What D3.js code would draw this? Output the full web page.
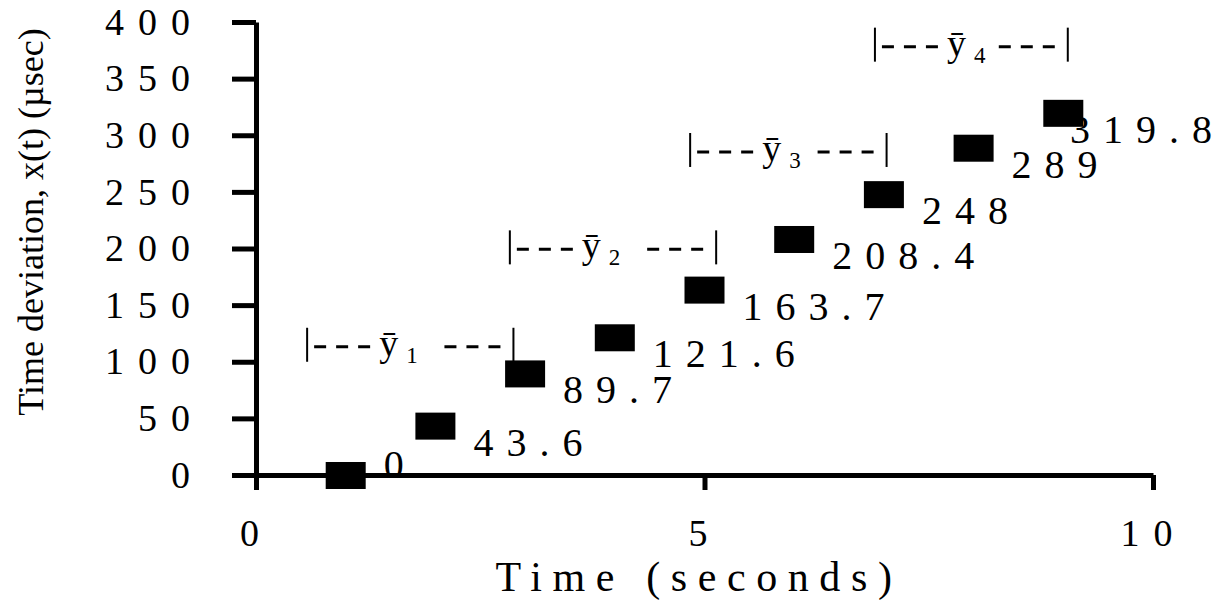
<!DOCTYPE html>
<html>
<head>
<meta charset="utf-8">
<script src="https://cdn.jsdelivr.net/npm/d3@7"></script>
<style>
  body { margin: 0; background: #fff; }
  text { font-family: "Liberation Serif", "Times New Roman", serif; fill: #000; }
</style>
</head>
<body>
<script>
// values
let times = [1, 2, 3, 4, 5, 6, 7, 8, 9];
let deviations = [0, 43.6, 89.7, 121.6, 163.7, 208.4, 248, 289, 319.8];
let pointLabels = ["0", "43.6", "89.7", "121.6", "163.7", "208.4", "248", "289", "319.8"];

let xTicks = [0, 5, 10];
let yTicks = [0, 50, 100, 150, 200, 250, 300, 350, 400];

// averaging intervals drawn as |---y---| brackets
let bracketNames = ["1", "2", "3", "4"];
let bracketStart = [0.57, 2.83, 4.84, 6.9];
let bracketEnd = [2.87, 5.13, 7.03, 9.05];
let bracketLevel = [115, 201, 287, 380];

let width = 1227;
let height = 601;

let svg = d3.select("body").append("svg")
    .attr("width", width)
    .attr("height", height);

let xScale = d3.scaleLinear().domain([0, 10]).range([256, 1153]);
let yScale = d3.scaleLinear().domain([0, 400]).range([475, 22]);

let styleAxis = (g, fontSize, spacing) => {
    g.select(".domain").attr("stroke", "#000").attr("stroke-width", 5);
    g.selectAll(".tick line").attr("stroke", "#000").attr("stroke-width", 5);
    g.selectAll(".tick text")
        .attr("font-family", "Liberation Serif")
        .attr("font-size", fontSize)
        .style("letter-spacing", spacing + "px");
};

let drawAxes = () => {
    let yAxis = d3.axisLeft(yScale)
        .tickValues(yTicks)
        .tickSize(24)
        .tickSizeOuter(0)
        .tickPadding(28)
        .tickFormat(d3.format("d"));

    let xAxis = d3.axisBottom(xScale)
        .tickValues(xTicks)
        .tickSize(15)
        .tickSizeOuter(0)
        .tickPadding(29)
        .tickFormat(d3.format("d"));

    svg.append("g")
        .attr("transform", "translate(256,0)")
        .call(yAxis)
        .call(g => styleAxis(g, 38, 14));

    svg.append("g")
        .attr("transform", "translate(0,475)")
        .call(xAxis)
        .call(g => styleAxis(g, 38, 14));

    svg.append("text")
        .attr("x", 699)
        .attr("y", 591)
        .attr("text-anchor", "middle")
        .attr("font-size", 42)
        .style("letter-spacing", "10.6px")
        .text("Time (seconds)");

    svg.append("text")
        .attr("transform", "translate(43,222) rotate(-90)")
        .attr("text-anchor", "middle")
        .attr("font-size", 36)
        .text("Time deviation, x(t) (\u00b5sec)");
};

let drawBrackets = () => {
    let g = svg.append("g");
    bracketNames.forEach((name, i) => {
        let x0 = xScale(bracketStart[i]);
        let x1 = xScale(bracketEnd[i]);
        let yc = yScale(bracketLevel[i]);

        [x0, x1].forEach(xv => {
            g.append("line")
                .attr("x1", xv).attr("x2", xv)
                .attr("y1", yc - 17).attr("y2", yc + 17)
                .attr("stroke", "#000").attr("stroke-width", 2);
        });

        g.append("line")
            .attr("x1", x0 + 7).attr("x2", x0 + 63)
            .attr("y1", yc + 2).attr("y2", yc + 2)
            .attr("stroke", "#000").attr("stroke-width", 3)
            .attr("stroke-dasharray", "12,10");

        g.append("line")
            .attr("x1", x1 - 13).attr("x2", x1 - 69)
            .attr("y1", yc + 2).attr("y2", yc + 2)
            .attr("stroke", "#000").attr("stroke-width", 3)
            .attr("stroke-dasharray", "12,10");

        let t = g.append("text")
            .attr("x", x0 + 72)
            .attr("y", yc + 11)
            .attr("font-size", 38);
        t.append("tspan").text("\u0233");
        t.append("tspan")
            .attr("dx", 8)
            .attr("dy", 7)
            .attr("font-size", 23)
            .text(name);
    });
};

let drawPoints = () => {
    svg.selectAll("rect.point")
        .data(times)
        .enter()
        .append("rect")
        .attr("class", "point")
        .attr("x", d => xScale(d) - 20)
        .attr("y", (d, i) => yScale(deviations[i]) - 13)
        .attr("width", 40)
        .attr("height", 27)
        .attr("fill", "#000");

    // value labels sit below-right of each marker, kept inside the plot
    svg.selectAll("text.value")
        .data(times)
        .enter()
        .append("text")
        .attr("class", "value")
        .attr("y", (d, i) => Math.min(yScale(deviations[i]) + 30, yScale(0) + 3))
        .attr("font-size", 40)
        .style("letter-spacing", "13px")
        .text((d, i) => pointLabels[i])
        .each(function (d) {
            let len = this.getComputedTextLength();
            d3.select(this).attr("x", Math.min(xScale(d) + 38, width - 2 - len));
        });
};

drawAxes();
drawBrackets();
drawPoints();
</script>
</body>
</html>
